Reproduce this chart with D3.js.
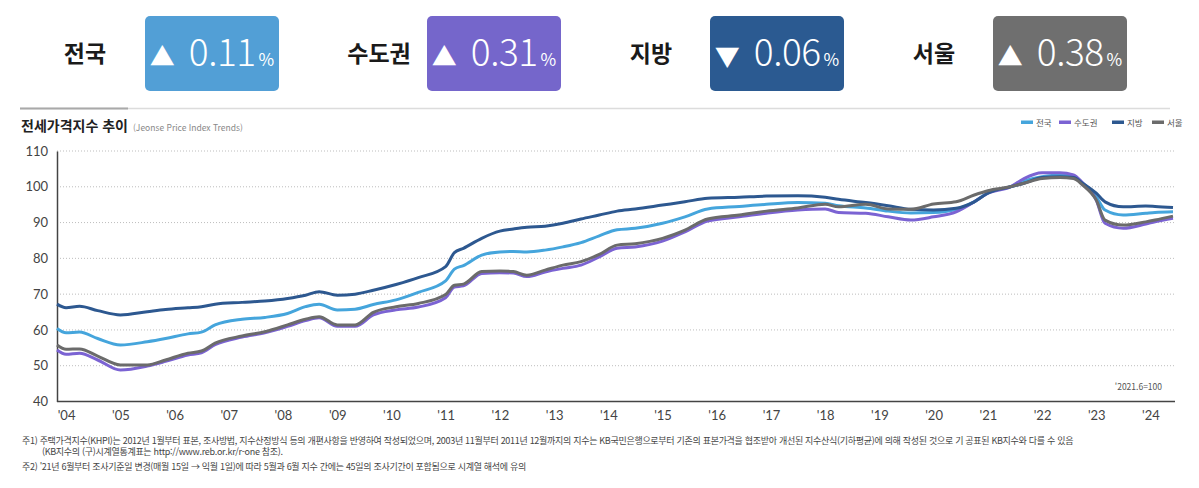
<!DOCTYPE html>
<html lang="ko">
<head>
<meta charset="utf-8">
<title>전세가격지수 추이</title>
<script src="https://d3js.org/d3.v7.min.js"></script>
<style>
  body { margin: 0; background: #fff; }
  svg text { font-family: "Noto Sans CJK KR", "Noto Sans", sans-serif; }
</style>
</head>
<body>
<script>
// summary boxes
const regions = ["전국", "수도권", "지방", "서울"]
const changes = [0.11, 0.31, -0.06, 0.38]

// chart data (index, '2021.6=100)
const dates = ["2003-11","2004-01","2004-04","2004-08","2005-01","2005-07","2005-11","2006-04","2006-07","2006-10",
  "2007-04","2007-09","2008-02","2008-06","2008-09","2009-01","2009-05","2009-09","2010-02","2010-07",
  "2011-01","2011-03","2011-05","2011-09","2012-01","2012-04","2012-07","2012-11","2013-03","2013-07",
  "2013-11","2014-03","2014-07","2015-01","2015-06","2015-11","2016-06","2016-12","2017-07","2018-01",
  "2018-04","2018-10","2019-03","2019-08","2020-01","2020-06","2020-10","2021-01","2021-06","2021-09",
  "2022-01","2022-05","2022-08","2022-10","2023-01","2023-03","2023-07","2023-12","2024-02","2024-06"]

const national = [60.4,59.2,59.4,57.6,55.8,56.7,57.6,58.9,59.4,61.4,
  63.0,63.5,64.6,66.5,67.2,65.6,65.8,67.1,68.4,70.5,
  73.7,77.0,78.0,80.9,81.8,81.9,81.8,82.3,83.2,84.4,
  86.3,88.0,88.4,89.8,91.6,93.8,94.5,95.1,95.6,95.4,
  94.7,94.1,93.2,92.7,92.8,93.7,95.8,98.3,100,101.6,
  102.8,103.3,103.0,101.0,97.2,93.5,92.1,92.6,92.8,93.0]

const capital = [54.4,53.2,53.5,51.6,48.8,49.9,51.2,53.0,53.6,55.9,
  58.0,59.2,61.0,62.6,63.4,61.0,61.0,64.2,65.6,66.4,
  69.0,72.0,72.3,75.8,76.0,75.9,74.9,76.2,77.2,78.1,
  80.4,82.8,83.2,84.8,87.4,90.4,91.6,92.6,93.5,93.8,
  92.8,92.6,91.6,90.7,91.6,93.0,95.8,98.2,100,102.3,
  103.9,103.9,103.3,101.1,96.3,89.8,88.4,89.6,90.2,91.2]

const provinces = [67.2,66.2,66.6,65.4,64.2,65.1,65.7,66.2,66.5,67.2,
  67.7,68.1,68.8,69.7,70.7,69.7,70.0,71.1,72.7,74.6,
  77.7,81.6,82.8,85.6,87.6,88.2,88.7,89.0,89.8,91.0,
  92.1,93.2,93.8,94.9,95.8,96.8,97.1,97.4,97.5,97.1,
  96.5,95.6,94.7,93.7,93.5,94.0,95.8,98.2,100,101.0,
  102.6,102.8,102.6,101.0,98.2,95.8,94.4,94.6,94.5,94.2]

const seoul = [55.8,54.6,54.7,52.7,50.2,50.2,51.6,53.5,54.1,56.3,
  58.3,59.5,61.4,63.0,63.7,61.4,61.4,64.9,66.5,67.4,
  69.9,72.5,72.8,76.3,76.5,76.3,75.3,76.7,78.1,79.1,
  81.1,83.7,84.1,85.6,87.9,91.0,92.1,93.2,94.1,95.1,
  94.4,95.1,93.8,93.7,95.2,95.8,97.7,98.9,100,101.0,
  102.3,102.6,102.3,100.5,96.3,90.7,89.3,90.2,90.7,91.8]

const yTicks = [40, 50, 60, 70, 80, 90, 100, 110]
const xTickYears = d3.range(2004, 2025)

const boxColors = ["#529fd6", "#7566cb", "#2b5a91", "#6f6f6f"]
const lineColors = ["#45a5dc", "#7b63d3", "#2d5890", "#6b6b6b"]

const W = 1199, H = 488
const svg = d3.select("body").append("svg")
  .attr("width", W).attr("height", H)

// ---- top summary row ----
const labelX = [85, 379, 651, 934]
const boxX = [145, 427, 710, 993]
const boxW = 134, boxY = 16, boxH = 75

regions.forEach((r, i) => {
  svg.append("text")
    .attr("x", labelX[i]).attr("y", 62)
    .attr("text-anchor", "middle")
    .attr("font-size", 23).attr("font-weight", 700)
    .attr("fill", "#1a1a1a")
    .text(r)

  svg.append("rect")
    .attr("x", boxX[i]).attr("y", boxY)
    .attr("width", boxW).attr("height", boxH)
    .attr("rx", 5)
    .attr("fill", boxColors[i])

  const t = svg.append("text")
    .attr("x", boxX[i] + boxW / 2).attr("y", 66)
    .attr("text-anchor", "middle")
    .attr("fill", "#fff")
  t.append("tspan").attr("font-size", 25).text(changes[i] >= 0 ? "▲" : "▼")
  t.append("tspan").attr("dx", 14).attr("font-size", 37).attr("font-weight", 300)
    .attr("letter-spacing", -0.5)
    .text(Math.abs(changes[i]).toFixed(2))
  t.append("tspan").attr("dx", 3).attr("font-size", 17).text("%")
})

// separator
svg.append("line").attr("x1", 20).attr("x2", 1170).attr("y1", 108.5).attr("y2", 108.5)
  .attr("stroke", "#dcdcdc").attr("stroke-width", 1.5)
svg.append("line").attr("x1", 20).attr("x2", 128).attr("y1", 108.5).attr("y2", 108.5)
  .attr("stroke", "#a9a9a9").attr("stroke-width", 2)

// title
const title = svg.append("text").attr("x", 21).attr("y", 131)
title.append("tspan").attr("font-size", 14).attr("font-weight", 700).attr("fill", "#222")
  .text("전세가격지수 추이")
title.append("tspan").attr("dx", 5).attr("font-size", 8.5).attr("fill", "#888")
  .text("(Jeonse Price Index Trends)")

// legend
const legendX = [1021, 1059, 1112, 1152]
regions.forEach((r, i) => {
  svg.append("rect").attr("x", legendX[i]).attr("y", 120.5)
    .attr("width", 12).attr("height", 3.5).attr("fill", lineColors[i])
  svg.append("text").attr("x", legendX[i] + 15).attr("y", 125.5)
    .attr("font-size", 8.5).attr("fill", "#555").text(r)
})

// ---- chart ----
const parse = d3.timeParse("%Y-%m")
const x = d3.scaleTime()
  .domain([parse("2003-11"), parse("2024-06")])
  .range([57, 1173])
const y = d3.scaleLinear().domain([40, 110]).range([401.5, 151])

// dotted grid
svg.append("g").selectAll("line")
  .data(yTicks.filter(v => v > 40))
  .join("line")
  .attr("x1", 57).attr("x2", 1176)
  .attr("y1", d => y(d)).attr("y2", d => y(d))
  .attr("stroke", "#bdbdbd").attr("stroke-width", 1)
  .attr("stroke-dasharray", "1,2")

const yAxis = svg.append("g").attr("transform", "translate(57,0)")
  .call(d3.axisLeft(y).tickValues(yTicks).tickSize(0).tickPadding(9))
yAxis.select(".domain").attr("stroke", "#444").attr("stroke-width", 1.5)
yAxis.selectAll("text").attr("font-size", 13).attr("fill", "#444")
  .style("font-family", "Lato, 'Noto Sans', sans-serif")

const xAxis = svg.append("g").attr("transform", "translate(0,401.5)")
  .call(d3.axisBottom(x)
    .tickValues(xTickYears.map(yr => new Date(yr, 0, 1)))
    .tickFormat(d => "'" + d3.timeFormat("%y")(d))
    .tickSize(0).tickPadding(9))
xAxis.select(".domain").attr("stroke", "#444").attr("stroke-width", 1.5)
  .attr("d", "M57,0H1175")
xAxis.selectAll("text").attr("font-size", 13).attr("fill", "#444")
  .style("font-family", "Lato, 'Noto Sans', sans-serif")

const series = [national, capital, provinces, seoul]
const line = d3.line()
  .x((d, i) => x(parse(dates[i])))
  .y(d => y(d))
  .curve(d3.curveMonotoneX)

svg.append("g").selectAll("path")
  .data(series)
  .join("path")
  .attr("d", d => line(d))
  .attr("fill", "none")
  .attr("stroke", (d, i) => lineColors[i])
  .attr("stroke-width", 3)
  .attr("stroke-linejoin", "round")

svg.append("text").attr("x", 1162).attr("y", 390)
  .attr("text-anchor", "end").attr("font-size", 8.5).attr("fill", "#555")
  .text("'2021.6=100")

// footnotes
const notes = [
  [22, 444, "주1) 주택가격지수(KHPI)는 2012년 1월부터 표본, 조사방법, 지수산정방식 등의 개편사항을 반영하여 작성되었으며, 2003년 11월부터 2011년 12월까지의 지수는 KB국민은행으로부터 기존의 표본가격을 협조받아 개선된 지수산식(기하평균)에 의해 작성된 것으로 기 공표된 KB지수와 다를 수 있음"],
  [42, 455, "(KB지수의 (구)시계열통계표는 http://www.reb.or.kr/r-one 참조)."],
  [22, 470, "주2) '21년 6월부터 조사기준일 변경(매월 15일 → 익월 1일)에 따라 5월과 6월 지수 간에는 45일의 조사기간이 포함됨으로 시계열 해석에 유의"]
]
svg.append("g").selectAll("text")
  .data(notes)
  .join("text")
  .attr("x", d => d[0]).attr("y", d => d[1])
  .attr("font-size", 9).attr("fill", "#444")
  .attr("letter-spacing", -0.3)
  .text(d => d[2])
</script>
</body>
</html>
